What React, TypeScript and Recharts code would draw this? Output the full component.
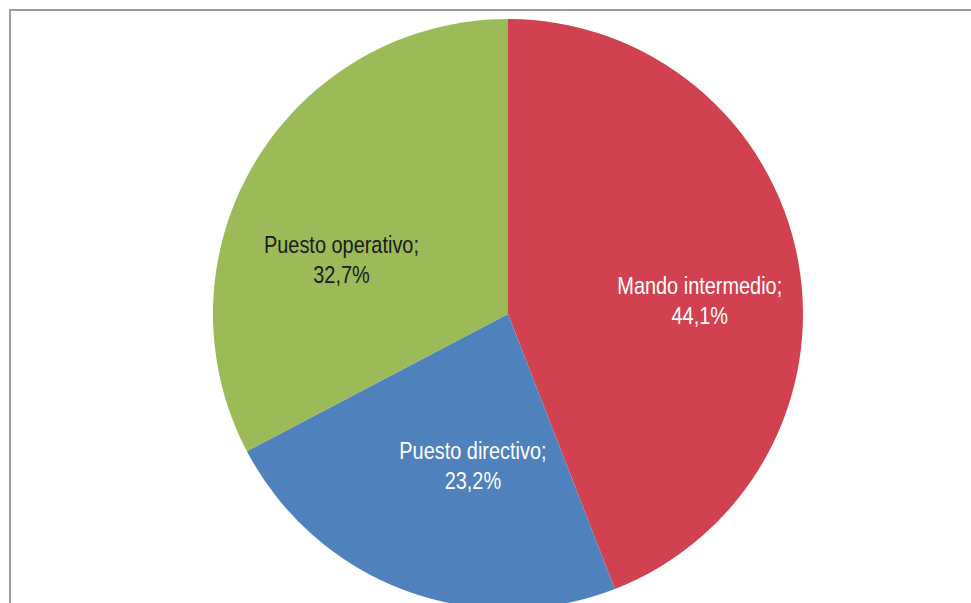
import { Cell, Pie, PieChart } from "recharts";

const categories = ["Mando intermedio", "Puesto directivo", "Puesto operativo"];
const shares = [44.1, 23.2, 32.7];
const colors = ["#D1414F", "#4F81BD", "#9BBB59"];
const labelColors = ["#ffffff", "#ffffff", "#1a1a1a"];
// small nudges so the labels sit where Excel's "best fit" put them
const labelNudge = [
  [12, 20],
  [29, -20],
  [-10, 40],
];

const data = categories.map((name, i) => ({ name, value: shares[i] }));

const RAD = Math.PI / 180;

function SliceLabel(props: any) {
  const { cx, cy, midAngle, outerRadius, index, value, name } = props;
  const r = outerRadius * 0.62;
  const x = cx + r * Math.cos(-midAngle * RAD) + labelNudge[index][0];
  const y = cy + r * Math.sin(-midAngle * RAD) + labelNudge[index][1];
  const pct = value.toFixed(1).replace(".", ",") + "%";
  return (
    <text
      transform={`translate(${x},${y}) scale(0.83,1)`}
      x={0}
      y={0}
      textAnchor="middle"
      fill={labelColors[index]}
      fontSize={24}
      fontFamily="'Liberation Sans', Arial, sans-serif"
    >
      <tspan x={0} dy={-6}>
        {name};
      </tspan>
      <tspan x={0} dy={30}>
        {pct}
      </tspan>
    </text>
  );
}

export default function App() {
  return (
    <div
      style={{
        position: "absolute",
        left: 0,
        top: 0,
        width: 971,
        height: 603,
        overflow: "hidden",
        background: "#fff",
      }}
    >
      <div
        style={{
          position: "absolute",
          left: 9,
          top: 9,
          width: 1100,
          height: 800,
          border: "2px solid #9c9c9c",
        }}
      />
      <PieChart width={971} height={603} style={{ position: "absolute", left: 0, top: 0 }}>
        <Pie
          data={data}
          dataKey="value"
          nameKey="name"
          cx={503}
          cy={309}
          outerRadius={295}
          startAngle={90}
          endAngle={-270}
          stroke="none"
          labelLine={false}
          label={SliceLabel}
          isAnimationActive={false}
        >
          {data.map((d, i) => (
            <Cell key={d.name} fill={colors[i]} />
          ))}
        </Pie>
      </PieChart>
    </div>
  );
}
